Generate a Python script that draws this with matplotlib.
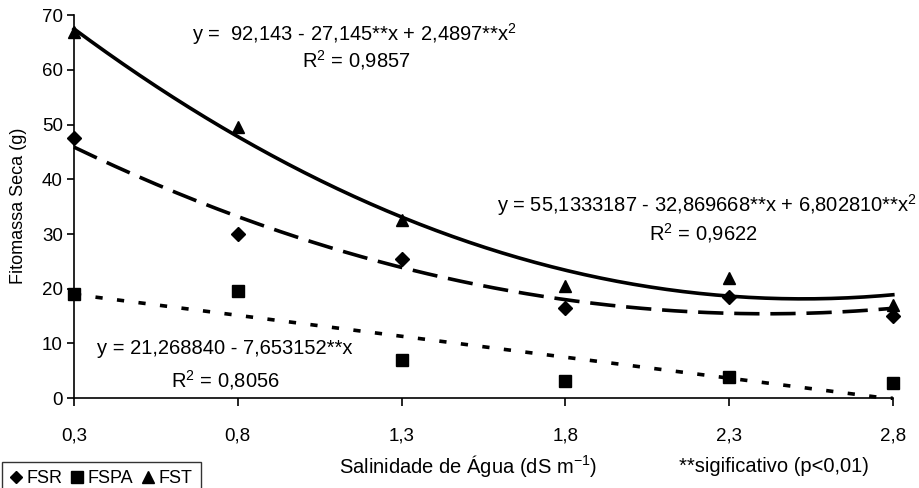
import numpy as np
import matplotlib
matplotlib.use("Agg")
import matplotlib.pyplot as plt
from matplotlib.lines import Line2D

plt.rcParams['font.family'] = ['Liberation Sans', 'DejaVu Sans']
plt.rcParams['mathtext.fontset'] = 'custom'
plt.rcParams['mathtext.rm'] = 'Liberation Sans'
plt.rcParams['mathtext.it'] = 'Liberation Sans:italic'

# Data
salinity = [0.3, 0.8, 1.3, 1.8, 2.3, 2.8]
xtick_labels = ['0,3', '0,8', '1,3', '1,8', '2,3', '2,8']
fsr = [47.5, 30.0, 25.5, 16.5, 18.5, 15.0]
fspa = [19.0, 19.5, 7.0, 3.2, 3.8, 2.8]
fst = [67.0, 49.5, 32.5, 20.5, 22.0, 17.0]

# Fitted equations from the chart (coefficients, constant term first)
fst_coef = [92.143, -27.145, 2.4897]          # x = treatment index 1..6
fsr_coef = [55.1333187, -32.869668, 6.802810]  # x = salinity
fspa_coef = [21.268840, -7.653152]            # x = salinity

fig = plt.figure(figsize=(9.19, 4.88), dpi=100)
ax = fig.add_axes([0.0805, 0.184, 0.891, 0.785])

xs = np.linspace(salinity[0], salinity[-1], 200)
idx = (xs - salinity[0]) / 0.5 + 1
y_fst = sum(c * idx**i for i, c in enumerate(fst_coef))
y_fsr = sum(c * xs**i for i, c in enumerate(fsr_coef))
y_fspa = sum(c * xs**i for i, c in enumerate(fspa_coef))

ax.plot(xs, y_fst, color='black', lw=2.6, clip_on=False)
ax.plot(xs, y_fsr, color='black', lw=2.6, dashes=(7, 3), clip_on=False)
ax.plot(xs, np.maximum(y_fspa, 0), color='black', lw=2.6, dashes=(2, 4), clip_on=False)

ax.plot(salinity, fsr, 'D', color='black', ms=7, clip_on=False, zorder=5)
ax.plot(salinity, fspa, 's', color='black', ms=9, clip_on=False, zorder=5)
ax.plot(salinity, fst, '^', color='black', ms=9, clip_on=False, zorder=5)

ax.set_xlim(0.3, 2.8)
ax.set_ylim(0, 70)
ax.set_xticks(salinity)
ax.set_xticklabels(xtick_labels)
ax.set_yticks(range(0, 71, 10))
for s in ['top', 'right']:
    ax.spines[s].set_visible(False)
ax.spines['left'].set_linewidth(1.2)
ax.spines['bottom'].set_linewidth(1.2)
ax.tick_params(axis='x', direction='out', length=6, width=1.2, pad=15, labelsize=13.5)
ax.tick_params(axis='y', direction='out', length=5, width=1.2, pad=3, labelsize=13.5)

fig.text(19/919, 1 - 206/488, 'Fitomassa Seca (g)', fontsize=13, rotation=90,
         ha='center', va='center')

fs = 14.5
# FST equation
fig.text(192/919, 1 - 34/488, 'y =  92,143 - 27,145**x + 2,4897**x$^{2}$', fontsize=fs, ha='left', va='center')
fig.text(356/919, 1 - 60/488, 'R$^{2}$ = 0,9857', fontsize=fs, ha='center', va='center')
# FSR equation
fig.text(917/919, 1 - 205/488, 'y = 55,1333187 - 32,869668**x + 6,802810**x$^{2}$', fontsize=fs, ha='right', va='center')
fig.text(703/919, 1 - 233/488, 'R$^{2}$ = 0,9622', fontsize=fs, ha='center', va='center')
# FSPA equation
fig.text(97/919, 1 - 349/488, 'y = 21,268840 - 7,653152**x', fontsize=fs, ha='left', va='center')
fig.text(225/919, 1 - 380/488, 'R$^{2}$ = 0,8056', fontsize=fs, ha='center', va='center')

fig.text(468/919, 1 - 466/488, 'Salinidade de Água (dS m$^{-1}$)', fontsize=14.5, ha='center', va='center')
fig.text(774/919, 1 - 466/488, '**sigificativo (p<0,01)', fontsize=14.5, ha='center', va='center')

handles = [Line2D([], [], marker='D', ls='none', color='black', ms=6),
           Line2D([], [], marker='s', ls='none', color='black', ms=8),
           Line2D([], [], marker='^', ls='none', color='black', ms=8)]
leg = fig.legend(handles, ['FSR', 'FSPA', 'FST'], ncol=3, loc='lower left',
                 bbox_to_anchor=(2/919, -0.015), fontsize=13, frameon=True,
                 fancybox=False, edgecolor='black', handlelength=0.6,
                 handletextpad=0.3, columnspacing=0.5, borderpad=0.45,
                 borderaxespad=0.0)
leg.get_frame().set_linewidth(1.0)

fig.savefig('out.png', dpi=100)
